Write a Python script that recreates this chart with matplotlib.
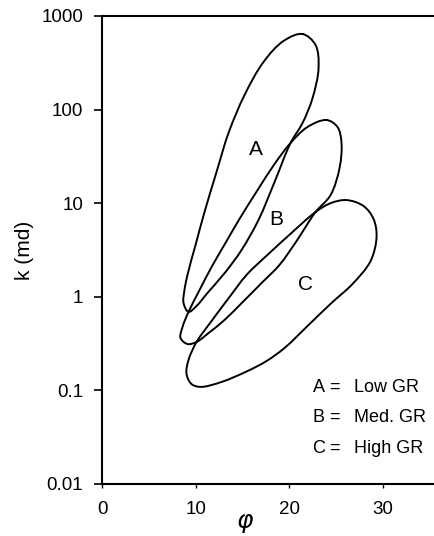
import matplotlib
matplotlib.use("Agg")
import matplotlib.pyplot as plt
import numpy as np
from matplotlib.path import Path
from matplotlib.patches import PathPatch
from matplotlib.ticker import NullLocator

plt.rcParams["font.family"] = ["Liberation Sans", "DejaVu Sans"]

# Envelope outlines: porosity (%) vs permeability (md), clockwise
phi_a = [21.40, 22.79, 23.11, 22.47, 21.40, 20.12, 18.41, 16.70, 14.89, 13.18, 11.26, 10.09,
         9.23, 8.70, 8.80, 9.12, 9.98, 10.94, 12.22, 13.50, 15.21, 17.24, 19.37]
k_a = [642, 490, 278, 133, 71.9, 44.0, 16.8, 6.62, 3.16, 1.84, 1.10, 0.798,
       0.689, 0.859, 1.18, 1.71, 3.57, 8.05, 21.5, 56.2, 143, 323, 541]

phi_b = [23.96, 25.13, 25.56, 25.35, 24.39, 22.79, 20.76, 18.94, 17.02, 15.02, 13.07, 11.37,
         10.09, 9.12, 8.38, 8.59, 9.23, 10.41, 11.69, 13.18, 14.67, 16.60, 18.41, 20.12, 21.93]
k_b = [77.4, 65.2, 44.0, 23.8, 12.2, 8.05, 3.94, 2.19, 1.40, 0.880, 0.565, 0.410,
       0.329, 0.313, 0.363, 0.475, 0.689, 1.18, 2.08, 3.76, 6.78, 13.8, 26.2, 44.0, 65.2]

phi_c = [22.79, 24.39, 26.09, 27.91, 28.98, 29.30, 28.66, 26.73, 24.49, 22.15, 19.48, 17.56,
         15.53, 12.75, 10.51, 9.55, 9.02, 9.23, 10.09, 11.69, 13.61, 15.42, 17.88, 20.22]
k_c = [8.05, 10.0, 10.8, 9.33, 6.78, 4.36, 2.41, 1.37, 0.859, 0.512, 0.284, 0.206,
       0.161, 0.123, 0.109, 0.117, 0.150, 0.211, 0.329, 0.551, 0.996, 1.71, 2.94, 4.81]

loop_names = ["A", "B", "C"]
loop_label_phi = [16.38, 18.62, 21.71]
loop_label_k = [32.4, 5.92, 1.17]

key_desc = ["Low GR", "Med. GR", "High GR"]
key_k = [0.0973, 0.0465, 0.0214]

x_ticks = [0, 10, 20, 30]
k_ticks = [0.01, 0.1, 1, 10, 100, 1000]
k_tick_labels = ["0.01", "0.1", "1", "10", "100", "1000"]


def closed_outline(phi, k, sx, sy):
    # centripetal Catmull-Rom through the traced points, as cubic Bezier segments
    # built in (phi, log k) space; sx, sy turn those units into screen pixels
    pts = np.column_stack([phi, np.log10(k)])
    n = len(pts)
    scale = np.array([sx, sy])

    def d(p, q):
        return max(np.hypot(*((q - p) * scale)) ** 0.5, 1e-6)

    verts = [pts[0]]
    codes = [Path.MOVETO]
    for i in range(n):
        p0, p1, p2, p3 = pts[i - 1], pts[i], pts[(i + 1) % n], pts[(i + 2) % n]
        d1, d2, d3 = d(p0, p1), d(p1, p2), d(p2, p3)
        b1 = (d1 ** 2 * p2 - d2 ** 2 * p0 + (2 * d1 ** 2 + 3 * d1 * d2 + d2 ** 2) * p1) / (3 * d1 * (d1 + d2))
        b2 = (d3 ** 2 * p1 - d2 ** 2 * p3 + (2 * d3 ** 2 + 3 * d3 * d2 + d2 ** 2) * p2) / (3 * d3 * (d3 + d2))
        verts += [b1, b2, p2]
        codes += [Path.CURVE4] * 3
    verts = np.array(verts)
    verts[:, 1] = 10 ** verts[:, 1]
    return Path(verts, codes)


fig = plt.figure(figsize=(4.34, 5.36), dpi=100)
ax = fig.add_axes([102 / 434, 52 / 536, 332 / 434, 468 / 536])
ax.set_yscale("log")
ax.set_xlim(0, 35.43)
ax.set_ylim(0.01, 1000)

px_per_phi = 332 / 35.43
px_per_decade = 468 / 5
for phi, k in [(phi_a, k_a), (phi_b, k_b), (phi_c, k_c)]:
    ax.add_patch(PathPatch(closed_outline(phi, k, px_per_phi, px_per_decade),
                           facecolor="none", edgecolor="black", lw=1.4,
                           capstyle="round", joinstyle="round"))

for name, px, kx in zip(loop_names, loop_label_phi, loop_label_k):
    ax.text(px, kx, name, fontsize=15, ha="center", va="baseline")

for name, desc, kx in zip(loop_names, key_desc, key_k):
    ax.text(22.47, kx, name, fontsize=13, ha="left", va="baseline")
    ax.text(24.20, kx, "=", fontsize=13, ha="left", va="baseline")
    ax.text(26.90, kx, desc, fontsize=13, ha="left", va="baseline")

ax.set_xticks(x_ticks)
ax.set_yticks(k_ticks, labels=k_tick_labels)
ax.yaxis.set_minor_locator(NullLocator())
ax.tick_params(axis="y", direction="out", length=5.5, width=1.2, pad=8, labelsize=13.5)
ax.tick_params(axis="x", direction="out", length=3, width=1.0, pad=9, labelsize=13.5)

ax.spines["right"].set_visible(False)
for side in ["left", "top", "bottom"]:
    ax.spines[side].set_linewidth(1.5)

ax.set_ylabel("k (md)", fontsize=15)
ax.yaxis.set_label_coords(-0.205, 0.5)
ax.set_xlabel(r"$\varphi$", fontsize=18)
ax.xaxis.set_label_coords(0.43, -0.058)

fig.savefig("out.png", dpi=100)
